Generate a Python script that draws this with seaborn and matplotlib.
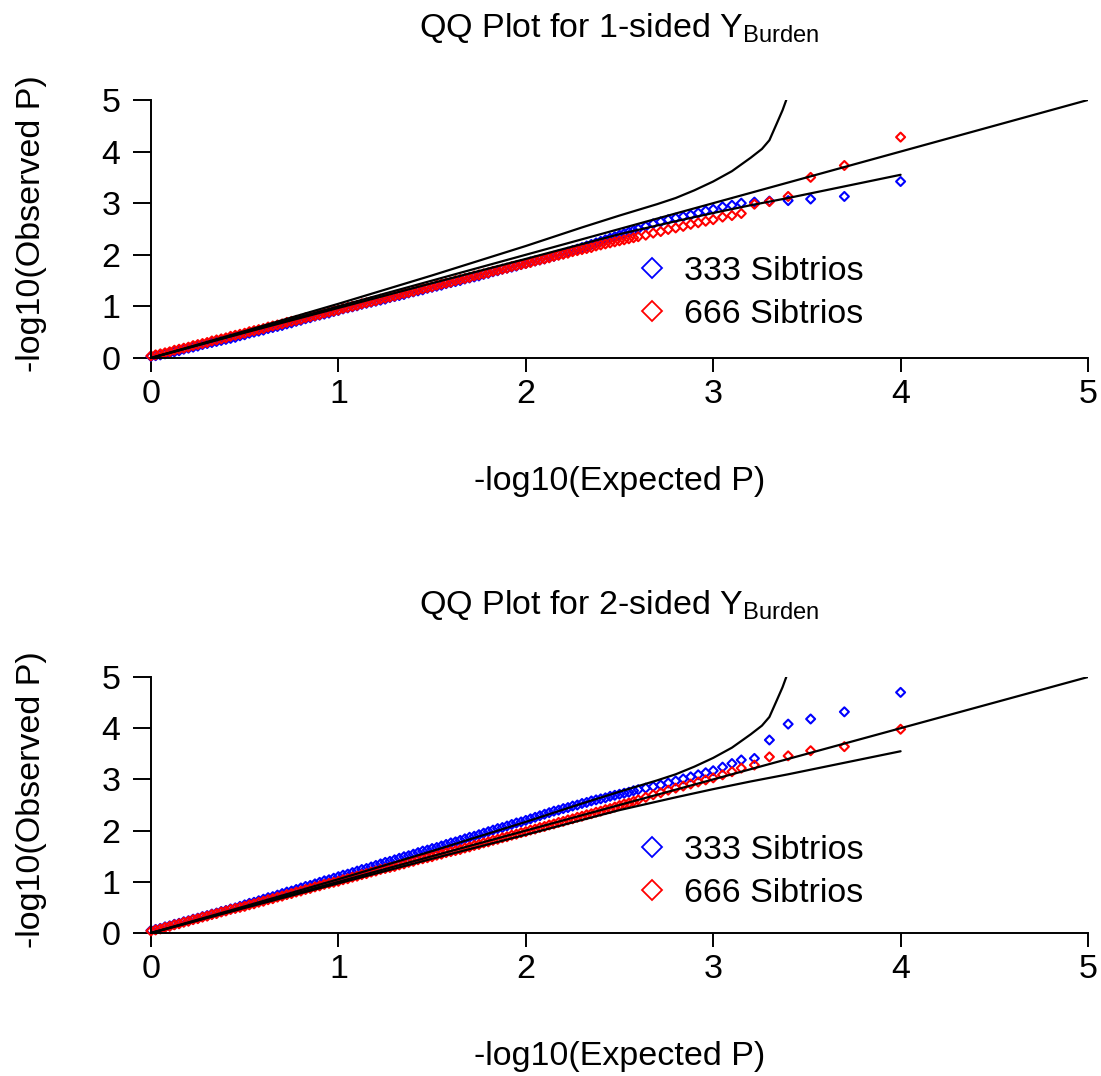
import matplotlib
matplotlib.use("Agg")
import matplotlib.pyplot as plt
from matplotlib.lines import Line2D
import pandas as pd
import seaborn as sns

# expected -log10(P) (shared by both cohorts / both panels)
expected = [0.000, 0.025, 0.050, 0.075, 0.100, 0.125, 0.150, 0.175, 0.200, 0.225,
            0.250, 0.275, 0.300, 0.325, 0.350, 0.375, 0.400, 0.425, 0.450, 0.475,
            0.500, 0.525, 0.550, 0.575, 0.600, 0.625, 0.650, 0.675, 0.700, 0.725,
            0.750, 0.775, 0.800, 0.825, 0.850, 0.875, 0.900, 0.925, 0.950, 0.975,
            1.000, 1.025, 1.050, 1.075, 1.100, 1.125, 1.150, 1.175, 1.200, 1.225,
            1.250, 1.275, 1.300, 1.325, 1.350, 1.375, 1.400, 1.425, 1.450, 1.475,
            1.500, 1.525, 1.550, 1.575, 1.600, 1.625, 1.650, 1.675, 1.700, 1.725,
            1.750, 1.775, 1.800, 1.825, 1.850, 1.875, 1.900, 1.925, 1.950, 1.975,
            2.000, 2.025, 2.050, 2.075, 2.100, 2.125, 2.150, 2.175, 2.200, 2.225,
            2.250, 2.275, 2.300, 2.325, 2.350, 2.375, 2.400, 2.425, 2.450, 2.475,
            2.500, 2.525, 2.550, 2.575, 2.600,
            2.64, 2.68, 2.72, 2.76, 2.80, 2.84, 2.88, 2.92, 2.96, 3.00,
            3.05, 3.10, 3.15, 3.22, 3.30, 3.40, 3.52, 3.70, 4.00]

# observed -log10(P), 1-sided test
obs_1sided_333 = [0.03, 0.045, 0.06, 0.08, 0.10, 0.12, 0.14, 0.17, 0.19, 0.21,
                  0.23, 0.26, 0.28, 0.30, 0.32, 0.34, 0.36, 0.38, 0.40, 0.43,
                  0.45, 0.48, 0.50, 0.52, 0.54, 0.57, 0.59, 0.61, 0.63, 0.66,
                  0.68, 0.71, 0.73, 0.76, 0.78, 0.81, 0.83, 0.85, 0.87, 0.90,
                  0.92, 0.95, 0.97, 0.99, 1.01, 1.04, 1.06, 1.08, 1.10, 1.12,
                  1.14, 1.17, 1.19, 1.21, 1.23, 1.26, 1.28, 1.30, 1.32, 1.35,
                  1.37, 1.39, 1.41, 1.44, 1.46, 1.48, 1.50, 1.53, 1.55, 1.57,
                  1.59, 1.62, 1.64, 1.67, 1.69, 1.72, 1.74, 1.76, 1.78, 1.81,
                  1.83, 1.86, 1.88, 1.90, 1.92, 1.95, 1.97, 2.00, 2.02, 2.05,
                  2.08, 2.11, 2.14, 2.17, 2.20, 2.23, 2.26, 2.29, 2.32, 2.35,
                  2.38, 2.41, 2.44, 2.47, 2.50,
                  2.55, 2.60, 2.64, 2.68, 2.71, 2.74, 2.77, 2.81, 2.85, 2.88,
                  2.93, 2.96, 3.00, 3.02, 3.04, 3.05, 3.08, 3.13, 3.42]
obs_1sided_666 = [0.04, 0.06, 0.08, 0.10, 0.12, 0.15, 0.17, 0.19, 0.21, 0.24,
                  0.26, 0.28, 0.30, 0.33, 0.35, 0.37, 0.39, 0.42, 0.44, 0.46,
                  0.48, 0.51, 0.53, 0.55, 0.57, 0.60, 0.62, 0.64, 0.66, 0.69,
                  0.71, 0.73, 0.75, 0.78, 0.80, 0.82, 0.84, 0.87, 0.89, 0.91,
                  0.93, 0.96, 0.98, 1.00, 1.02, 1.05, 1.07, 1.09, 1.11, 1.14,
                  1.16, 1.18, 1.20, 1.23, 1.25, 1.27, 1.29, 1.32, 1.34, 1.36,
                  1.38, 1.41, 1.43, 1.45, 1.47, 1.50, 1.52, 1.54, 1.56, 1.59,
                  1.61, 1.63, 1.65, 1.68, 1.70, 1.72, 1.74, 1.77, 1.79, 1.81,
                  1.83, 1.85, 1.88, 1.90, 1.92, 1.94, 1.97, 1.99, 2.01, 2.03,
                  2.06, 2.08, 2.10, 2.12, 2.14, 2.17, 2.19, 2.21, 2.23, 2.25,
                  2.27, 2.29, 2.31, 2.33, 2.35,
                  2.38, 2.42, 2.45, 2.49, 2.52, 2.55, 2.59, 2.62, 2.65, 2.68,
                  2.73, 2.76, 2.80, 2.98, 3.03, 3.13, 3.50, 3.73, 4.28]

# observed -log10(P), 2-sided test
obs_2sided_333 = [0.05, 0.07, 0.09, 0.12, 0.14, 0.17, 0.19, 0.22, 0.24, 0.27,
                  0.29, 0.32, 0.34, 0.37, 0.39, 0.42, 0.44, 0.47, 0.49, 0.52,
                  0.55, 0.58, 0.60, 0.63, 0.66, 0.69, 0.71, 0.74, 0.77, 0.80,
                  0.82, 0.85, 0.88, 0.91, 0.93, 0.96, 0.99, 1.02, 1.04, 1.07,
                  1.10, 1.13, 1.15, 1.18, 1.21, 1.24, 1.26, 1.29, 1.32, 1.35,
                  1.38, 1.40, 1.43, 1.46, 1.49, 1.51, 1.54, 1.57, 1.60, 1.62,
                  1.65, 1.67, 1.70, 1.73, 1.76, 1.78, 1.81, 1.84, 1.87, 1.89,
                  1.92, 1.95, 1.98, 2.01, 2.04, 2.06, 2.09, 2.12, 2.15, 2.17,
                  2.20, 2.23, 2.26, 2.29, 2.32, 2.35, 2.38, 2.40, 2.43, 2.45,
                  2.48, 2.50, 2.53, 2.55, 2.58, 2.60, 2.62, 2.64, 2.67, 2.69,
                  2.71, 2.73, 2.75, 2.78, 2.80,
                  2.83, 2.86, 2.89, 2.93, 2.97, 3.01, 3.05, 3.09, 3.13, 3.17,
                  3.24, 3.31, 3.38, 3.41, 3.77, 4.08, 4.18, 4.32, 4.70]
obs_2sided_666 = [0.04, 0.06, 0.08, 0.11, 0.13, 0.16, 0.18, 0.21, 0.23, 0.26,
                  0.28, 0.31, 0.33, 0.36, 0.38, 0.41, 0.43, 0.46, 0.48, 0.50,
                  0.52, 0.55, 0.57, 0.60, 0.62, 0.65, 0.67, 0.70, 0.72, 0.75,
                  0.77, 0.80, 0.82, 0.85, 0.87, 0.90, 0.92, 0.95, 0.97, 0.99,
                  1.01, 1.04, 1.06, 1.09, 1.11, 1.14, 1.16, 1.19, 1.21, 1.24,
                  1.26, 1.28, 1.30, 1.33, 1.35, 1.38, 1.40, 1.43, 1.45, 1.47,
                  1.49, 1.52, 1.54, 1.57, 1.59, 1.61, 1.63, 1.66, 1.68, 1.71,
                  1.73, 1.76, 1.78, 1.81, 1.83, 1.86, 1.88, 1.91, 1.93, 1.96,
                  1.98, 2.01, 2.03, 2.06, 2.08, 2.11, 2.13, 2.16, 2.18, 2.21,
                  2.23, 2.26, 2.28, 2.31, 2.33, 2.36, 2.38, 2.41, 2.43, 2.46,
                  2.49, 2.52, 2.54, 2.57, 2.60,
                  2.65, 2.70, 2.74, 2.79, 2.83, 2.87, 2.91, 2.95, 2.99, 3.03,
                  3.09, 3.15, 3.22, 3.28, 3.44, 3.46, 3.56, 3.64, 3.98]

# confidence band and identity line
upper_x = [0.0, 0.5, 1.0, 1.5, 2.0, 2.3, 2.5, 2.7, 2.8, 2.9, 3.0, 3.1,
           3.2, 3.26, 3.3, 3.34, 3.37, 3.39]
upper_y = [0.0, 0.52, 1.05, 1.60, 2.17, 2.53, 2.76, 2.98, 3.10, 3.25, 3.42, 3.62,
           3.88, 4.05, 4.22, 4.55, 4.80, 5.00]
lower_x = [0.0, 0.5, 1.0, 1.5, 2.0, 2.5, 2.8, 3.0, 3.2, 3.4, 3.6, 3.8, 4.0]
lower_y = [0.0, 0.49, 0.97, 1.45, 1.92, 2.40, 2.65, 2.81, 2.96, 3.10, 3.25, 3.40, 3.55]
diag_x = [0, 5]
diag_y = [0, 5]

cohorts = ["333 Sibtrios", "666 Sibtrios"]
palette = {"333 Sibtrios": "blue", "666 Sibtrios": "red"}
panels = [
    (r"QQ Plot for 1-sided $\mathregular{Y_{Burden}}$", obs_1sided_333, obs_1sided_666),
    (r"QQ Plot for 2-sided $\mathregular{Y_{Burden}}$", obs_2sided_333, obs_2sided_666),
]
ticks = [0, 1, 2, 3, 4, 5]

sns.set_theme(style="ticks")
plt.rcParams["font.family"] = ["Liberation Sans", "DejaVu Sans"]
plt.rcParams["mathtext.fontset"] = "custom"
plt.rcParams["mathtext.rm"] = "Liberation Sans"
for key in ["text.color", "axes.labelcolor", "xtick.color", "ytick.color"]:
    plt.rcParams[key] = "black"
FS = 24.5

fig = plt.figure(figsize=(11.01, 10.76), dpi=100)
rects = [[0.1371, 0.6673, 0.8511, 0.2398], [0.1371, 0.1329, 0.8511, 0.2379]]
legend_y = [0.395, 0.383]

for rect, ly0, (title, obs_a, obs_b) in zip(rects, legend_y, panels):
    ax = fig.add_axes(rect)
    df = pd.concat([
        pd.DataFrame({"expected": expected, "observed": obs_a, "cohort": cohorts[0]}),
        pd.DataFrame({"expected": expected, "observed": obs_b, "cohort": cohorts[1]}),
    ], ignore_index=True)

    # open diamonds, blue drawn first, red on top
    sns.scatterplot(data=df, x="expected", y="observed", hue="cohort",
                    palette=palette, marker="D", s=21, linewidth=1.5,
                    legend=False, clip_on=False, ax=ax)
    pts = ax.collections[-1]
    pts.set_edgecolors(pts.get_facecolors())
    pts.set_facecolors("none")

    for lx, ly in [(diag_x, diag_y), (upper_x, upper_y), (lower_x, lower_y)]:
        sns.lineplot(x=lx, y=ly, color="black", lw=1.6, sort=False,
                     estimator=None, ax=ax, zorder=3)

    ax.set_xlim(0, 5)
    ax.set_ylim(0, 5)
    ax.set_xticks(ticks)
    ax.set_yticks(ticks)
    ax.set_xticklabels([str(t) for t in ticks])
    ax.set_yticklabels([str(t) for t in ticks])
    ax.tick_params(axis="x", length=10, width=1.4, pad=5, labelsize=FS)
    ax.tick_params(axis="y", length=13, width=1.4, pad=9, labelsize=FS)
    for side in ["left", "bottom"]:
        ax.spines[side].set_linewidth(1.4)
        ax.spines[side].set_color("black")
    sns.despine(ax=ax)

    ax.set_xlabel("-log10(Expected P)", fontsize=FS, va="top")
    ax.set_ylabel("-log10(Observed P)", fontsize=FS)
    ax.xaxis.set_label_coords(0.5, -0.42)
    ax.yaxis.set_label_coords(-0.111, 0.52)
    ax.text(0.5, 1.245, title, transform=ax.transAxes, ha="center",
            va="baseline", fontsize=FS)

    handles = [Line2D([], [], marker="D", ls="none", ms=10, mfc="none",
                      mec=palette[c], mew=1.3) for c in cohorts]
    ax.legend(handles, cohorts, loc="upper left", bbox_to_anchor=(0.5165, ly0),
              frameon=False, fontsize=FS, handlelength=1.0, handletextpad=0.45,
              labelspacing=0.34, borderpad=0, borderaxespad=0)

fig.savefig("out.png", dpi=100)
